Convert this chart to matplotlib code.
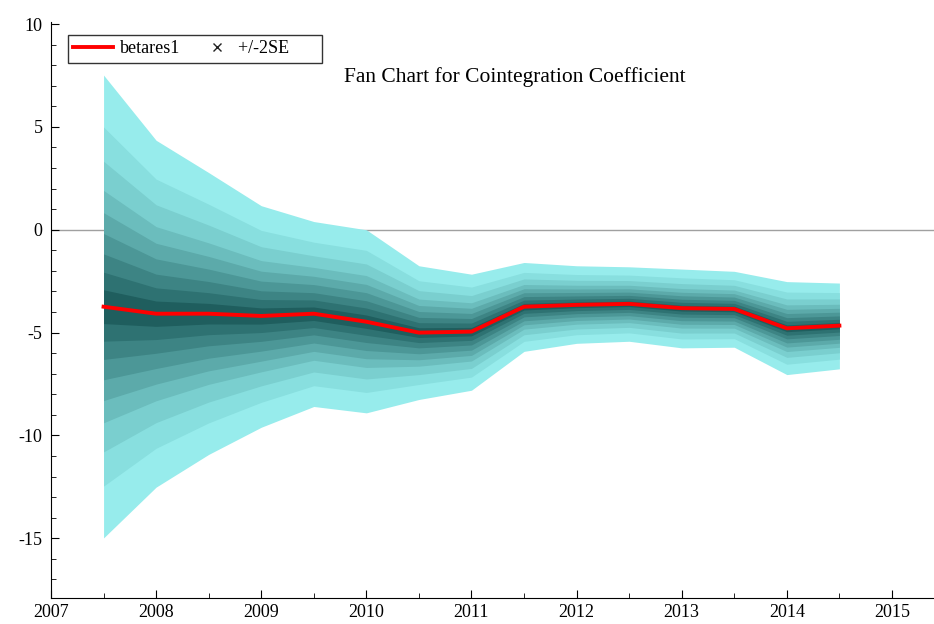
import numpy as np
import matplotlib
matplotlib.use('Agg')
import matplotlib.pyplot as plt
from matplotlib.lines import Line2D
from matplotlib.legend_handler import HandlerLine2D
from matplotlib.ticker import MultipleLocator

# data
years = [2007.5, 2008.0, 2008.5, 2009.0, 2009.5, 2010.0, 2010.5, 2011.0,
         2011.5, 2012.0, 2012.5, 2013.0, 2013.5, 2014.0, 2014.5]
betares1 = [-3.74, -4.08, -4.08, -4.19, -4.08, -4.47, -5.00, -4.95,
            -3.74, -3.65, -3.60, -3.81, -3.85, -4.79, -4.66]
upper_2se = [7.52, 4.35, 2.78, 1.17, 0.40, 0.00, -1.75, -2.16,
             -1.59, -1.75, -1.80, -1.91, -2.02, -2.52, -2.59]
lower_2se = [-14.98, -12.51, -10.92, -9.60, -8.59, -8.90, -8.25, -7.80,
             -5.91, -5.52, -5.42, -5.74, -5.71, -7.04, -6.76]
# share of the +/-2SE half width where each fan band ends (outer to inner)
band_share = [1.0, 0.776, 0.628, 0.502, 0.406, 0.316, 0.228, 0.149, 0.073]
band_colors = ['#97ecec', '#88dfdf', '#7acfcf', '#6bbdbd', '#5caaaa',
               '#4c9797', '#3d8484', '#2e7272', '#1f5e5e']

x = np.array(years)
mid = np.array(betares1)
up = np.array(upper_2se) - mid
dn = mid - np.array(lower_2se)


class MarkerRight(HandlerLine2D):
  # single marker sits in the middle of xdata, so shift xdata to the right
  def get_xdata(self, legend, xdescent, ydescent, width, height, fontsize):
    xd = [0.3 * width - xdescent, width - xdescent]
    return xd, xd


plt.rcParams['font.family'] = ['Liberation Serif', 'DejaVu Serif']
plt.rcParams['axes.unicode_minus'] = False

fig = plt.figure(figsize=(9.34, 6.24), dpi=100)
ax = fig.add_axes([51 / 934, 1 - 598 / 624, 1 - 51 / 934, (598 - 22) / 624])

ax.axhline(0, color='#a0a0a0', lw=1.0, zorder=1)
for s, c in zip(band_share, band_colors):
  ax.fill_between(x, mid - s * dn, mid + s * up, color=c, lw=0, zorder=2)
ax.plot(x, mid, color='red', lw=2.8, zorder=3)

ax.set_xlim(2007, 2015.4)
ax.set_ylim(-17.9, 10.1)
ax.xaxis.set_major_locator(MultipleLocator(1))
ax.xaxis.set_minor_locator(MultipleLocator(0.5))
ax.yaxis.set_major_locator(MultipleLocator(5))
ax.yaxis.set_minor_locator(MultipleLocator(1))
ax.tick_params(which='both', direction='in', labelsize=13, colors='black')
ax.tick_params(which='major', length=6)
ax.tick_params(which='minor', length=3.5)
ax.tick_params(axis='y', which='both', pad=6)
ax.tick_params(axis='x', which='both', pad=4)
ax.spines['top'].set_visible(False)
ax.spines['right'].set_visible(False)

ax.text(0.5255, 0.904, 'Fan Chart for Cointegration Coefficient', transform=ax.transAxes,
        ha='center', va='center', fontsize=15.5)

line_h = Line2D([], [], color='red', lw=2.8)
se_h = Line2D([], [], color='#222222', marker='x', ls='none', markersize=6)
leg = ax.legend([line_h, se_h], ['betares1', '+/-2SE      '], ncol=2, loc='upper left',
                bbox_to_anchor=(0.019, 0.978), fontsize=13, frameon=True, fancybox=False,
                edgecolor='black', borderpad=0.3, handlelength=2.2, handletextpad=0.4,
                columnspacing=0.6, borderaxespad=0,
                handler_map={se_h: MarkerRight(numpoints=1)})
leg.get_frame().set_linewidth(1.0)

fig.savefig('out.png', dpi=100)
